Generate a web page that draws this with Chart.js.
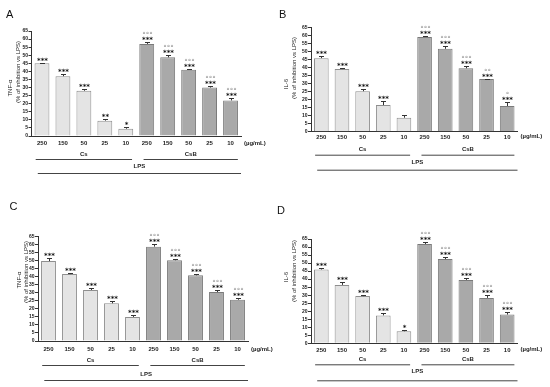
<!DOCTYPE html>
<html>
<head>
<meta charset="utf-8">
<script src="https://cdn.jsdelivr.net/npm/chart.js@4"></script>
<style>
    body { margin: 0; background: #fff; }
    #wrap { position: relative; width: 550px; height: 387px; overflow: hidden; }
    canvas { position: absolute; }
</style>
</head>
<body>
<div id="wrap">
    <canvas id="panelA" width="275" height="190" style="left:0;top:0"></canvas>
    <canvas id="panelB" width="275" height="190" style="left:275px;top:0"></canvas>
    <canvas id="panelC" width="275" height="197" style="left:0;top:190px"></canvas>
    <canvas id="panelD" width="275" height="197" style="left:275px;top:190px"></canvas>
</div>
<script>
const doses = ['250', '150', '50', '25', '10', '250', '150', '50', '25', '10'];
const groups = ['Cs', 'CsB'];
const stimulus = 'LPS';
const unit = '(µg/mL)';
const yMax = 65, yStep = 5;

// A - TNF-a
const tnfA = [45, 37, 28, 9.5, 4.5, 57, 48.7, 41, 30, 22];
const tnfAErr = [0.5, 1.5, 1, 1.2, 0.8, 1, 1.5, 0.7, 0.8, 1.5];
const tnfAStars = ['***', '***', '***', '**', '*', '***', '***', '***', '***', '***'];
const tnfADeg = ['', '', '', '', '', '°°°', '°°°', '°°°', '°°°', '°°°'];

// B - IL-6
const il6B = [45.8, 39, 25.2, 16.6, 8.7, 59, 51.6, 39.5, 32.8, 16];
const il6BErr = [1.5, 0.4, 1.3, 2.3, 1.5, 0.7, 2, 1.3, 0.3, 2.5];
const il6BStars = ['***', '***', '***', '***', '', '***', '***', '***', '***', '***'];
const il6BDeg = ['', '', '', '', '', '°°°', '°°°', '°°°', '°°', '°'];

// C - TNF-a
const tnfC = [49.8, 41.7, 31.8, 23.5, 15, 58.8, 50.3, 40.9, 30.5, 25.7];
const tnfCErr = [2, 0.6, 1.2, 1.2, 1, 1.5, 1, 1, 1, 1];
const tnfCStars = ['***', '***', '***', '***', '***', '***', '***', '***', '***', '***'];
const tnfCDeg = ['', '', '', '', '', '°°°', '°°°', '°°°', '°°°', '°°°'];

// D - IL-6
const il6D = [46, 36.4, 29.4, 17.4, 7.5, 61.9, 52.5, 39.5, 28.3, 17.9];
const il6DErr = [0.8, 1.5, 0.7, 1.2, 1, 1, 1, 1, 1.8, 1.5];
const il6DStars = ['***', '***', '***', '***', '*', '***', '***', '***', '***', '***'];
const il6DDeg = ['', '', '', '', '', '°°°', '°°°', '°°°', '°°°', '°°°'];

const panels = [
    { id: 'panelA', letter: 'A', letterPos: [6, 17.5], title: ['TNF-α', '(% of inhibition vs LPS)'],
      values: tnfA, errors: tnfAErr, stars: tnfAStars, degs: tnfADeg,
      area: [31.5, 31, 241, 136], tickPad: 4, titleX: [10, 18], titleY: [88, 72], below: [18, 23, 30, 37] },
    { id: 'panelB', letter: 'B', letterPos: [4, 17.5], title: ['IL-6', '(% of inhibition vs LPS)'],
      values: il6B, errors: il6BErr, stars: il6BStars, degs: il6BDeg,
      area: [36, 27.3, 242.5, 131.7], tickPad: 2, titleX: [11.7, 19.3], titleY: [84, 68], below: [18, 23, 31, 38] },
    { id: 'panelC', letter: 'C', letterPos: [9.5, 20], title: ['TNF-α', '(% of inhibition vs LPS)'],
      values: tnfC, errors: tnfCErr, stars: tnfCStars, degs: tnfCDeg,
      area: [38, 46.7, 248, 151], tickPad: 5, titleX: [19, 26.5], titleY: [90, 82], below: [19, 24, 33, 39] },
    { id: 'panelD', letter: 'D', letterPos: [2, 24], title: ['IL-6', '(% of inhibition vs LPS)'],
      values: il6D, errors: il6DErr, stars: il6DStars, degs: il6DDeg,
      area: [36, 49, 242.5, 153.3], tickPad: 3, titleX: [11.7, 19.3], titleY: [87, 81], below: [16, 21, 28, 37] }
];

function drawLine(ctx, x1, y1, x2, y2) {
    ctx.beginPath();
    ctx.moveTo(x1, y1);
    ctx.lineTo(x2, y2);
    ctx.stroke();
}

const extras = {
    id: 'extras',
    afterDraw(chart, args, o) {
        const ctx = chart.ctx, a = chart.chartArea, x = chart.scales.x, y = chart.scales.y;
        const step = x.getPixelForValue(1) - x.getPixelForValue(0);
        const c = i => x.getPixelForValue(i);
        ctx.save();
        ctx.strokeStyle = '#333';
        ctx.lineWidth = 1;
        ctx.textAlign = 'center';

        // error bars + significance marks
        o.values.forEach((v, i) => {
            const cx = Math.round(c(i)) + 0.5;
            const base = y.getPixelForValue(v);
            const top = Math.round(y.getPixelForValue(v + o.errors[i])) + 0.5;
            drawLine(ctx, cx, base, cx, top);
            drawLine(ctx, cx - 2.5, top, cx + 2.5, top);
            ctx.fillStyle = '#111';
            ctx.font = 'bold 7px "DejaVu Sans"';
            ctx.fillText(o.stars[i], cx, top - 1);
            ctx.fillStyle = '#8a8a8a';
            ctx.font = '7px "DejaVu Sans"';
            ctx.fillText(o.degs[i], cx, top - 5.5);
        });

        // group labels and lines under the axis
        ctx.fillStyle = '#222';
        ctx.strokeStyle = '#444';
        ctx.font = 'bold 6px "Liberation Sans"';
        ctx.textBaseline = 'middle';
        const spans = [[c(0) - 0.3 * step, c(4) + 0.3 * step], [c(5) - 0.15 * step, c(9) + 0.35 * step]];
        spans.forEach((s, k) => {
            ctx.fillText(groups[k], (s[0] + s[1]) / 2, a.bottom + o.below[0]);
            drawLine(ctx, s[0], a.bottom + o.below[1] + 0.5, s[1], a.bottom + o.below[1] + 0.5);
        });
        const lps = [c(0) - 0.2 * step, c(9) + 0.5 * step];
        ctx.fillText(stimulus, (lps[0] + lps[1]) / 2, a.bottom + o.below[2]);
        drawLine(ctx, lps[0], a.bottom + o.below[3] + 0.5, lps[1], a.bottom + o.below[3] + 0.5);

        ctx.textAlign = 'left';
        ctx.fillText(unit, a.right + 3, a.bottom + o.tickPad + 3);

        // y title, two rotated lines
        ctx.textAlign = 'center';
        ctx.font = '6px "Liberation Sans"';
        o.title.forEach((t, k) => {
            ctx.save();
            ctx.translate(o.titleX[k], o.titleY[k]);
            ctx.rotate(-Math.PI / 2);
            ctx.fillText(t, 0, 0);
            ctx.restore();
        });

        // panel letter
        ctx.textAlign = 'left';
        ctx.textBaseline = 'alphabetic';
        ctx.fillStyle = '#111';
        ctx.font = '11px "Liberation Sans"';
        ctx.fillText(o.letter, o.letterPos[0], o.letterPos[1]);
        ctx.restore();
    }
};

panels.forEach(p => {
    const canvas = document.getElementById(p.id);
    const [left, top, right, bottom] = p.area;
    new Chart(canvas, {
        type: 'bar',
        data: {
            labels: doses,
            datasets: [{
                data: p.values,
                backgroundColor: p.values.map((v, i) => i < 5 ? '#e4e4e4' : '#a9a9a9'),
                borderColor: p.values.map((v, i) => i < 5 ? '#8f8f8f' : '#7b7b7b'),
                borderWidth: 1,
                barPercentage: 0.71,
                categoryPercentage: 1
            }]
        },
        options: {
            responsive: false,
            animation: false,
            layout: {
                padding: { left: 0, top: top, right: canvas.width - right, bottom: canvas.height - bottom - 10 }
            },
            plugins: {
                legend: { display: false },
                tooltip: { enabled: false },
                extras: p
            },
            scales: {
                x: {
                    afterFit: s => { s.height = 10; },
                    grid: { display: false, drawTicks: false },
                    border: { display: true, color: '#333', width: 1 },
                    ticks: {
                        color: '#222', padding: p.tickPad, maxRotation: 0, autoSkip: false,
                        font: { family: 'Liberation Sans', size: 6, weight: 'bold' }
                    }
                },
                y: {
                    min: 0, max: yMax,
                    afterFit: s => { s.width = left; },
                    grid: { display: true, drawOnChartArea: false, drawTicks: true, tickLength: 3, color: '#333' },
                    border: { display: true, color: '#333', width: 1 },
                    ticks: {
                        stepSize: yStep, autoSkip: false, color: '#222', padding: 0.5,
                        font: { family: 'Liberation Sans', size: 5, weight: 'bold' }
                    }
                }
            }
        },
        plugins: [extras]
    });
});
</script>
</body>
</html>
